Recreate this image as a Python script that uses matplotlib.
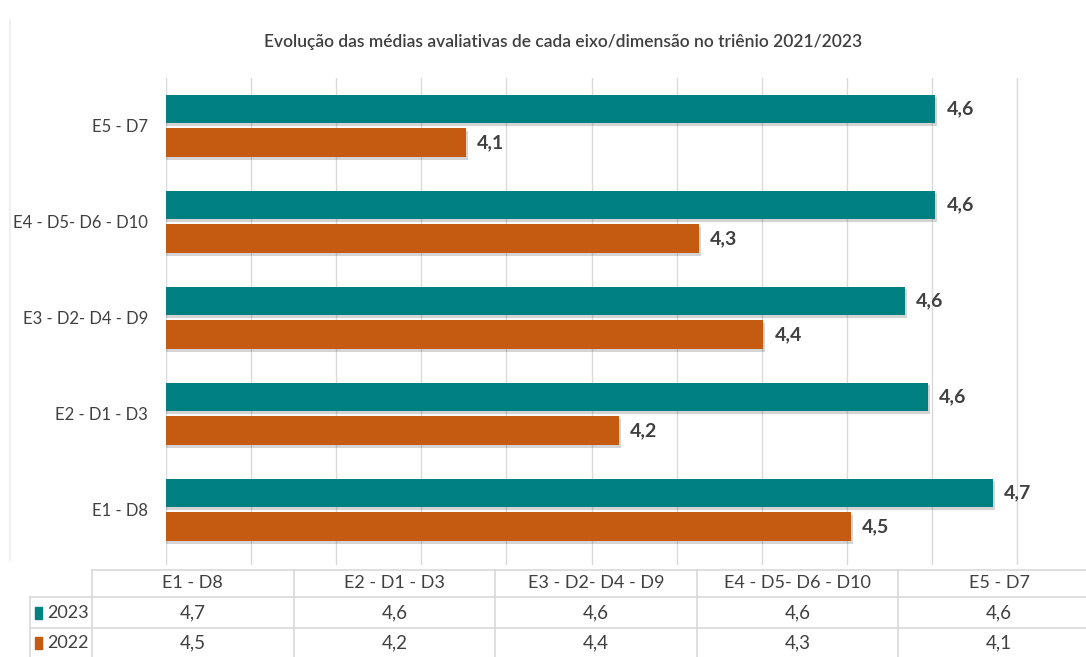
import numpy as np
import matplotlib
matplotlib.use('Agg')
import matplotlib.pyplot as plt
import matplotlib.patheffects as pe
from matplotlib.patches import Rectangle
from matplotlib.lines import Line2D

plt.rcParams['font.family'] = ['Lato', 'DejaVu Sans']

# data (bottom to top as drawn)
categories = ['E1 - D8', 'E2 - D1 - D3', 'E3 - D2- D4 - D9', 'E4 - D5- D6 - D10', 'E5 - D7']
values_2023 = [4.672, 4.595, 4.568, 4.604, 4.604]
values_2022 = [4.505, 4.232, 4.402, 4.326, 4.052]
series_names = ['2023', '2022']

teal = '#008080'
orange = '#C55A11'
text_col = '#404040'
grid_col = '#D9D9D9'

W, H = 1086, 657
fig = plt.figure(figsize=(W / 100, H / 100), dpi=100)

def fx(px):
    return px / W

def fy(py):
    return 1 - py / H

# axes placement in pixels
ax_left, ax_right, ax_top, ax_bot = 166, 1086, 78, 565
ax = fig.add_axes([fx(ax_left), fy(ax_bot), fx(ax_right - ax_left), (ax_bot - ax_top) / H])

y = np.arange(len(categories))
bh = 0.30
shadow = [pe.SimplePatchShadow(offset=(1.5, -2), alpha=0.25, shadow_rgbFace='#555555'), pe.Normal()]
b23 = ax.barh(y + 0.177, values_2023, height=bh, color=teal, zorder=3)
b22 = ax.barh(y - 0.172, values_2022, height=bh, color=orange, zorder=3)
for b in list(b23) + list(b22):
    b.set_path_effects(shadow)

x0 = 3.7
ax.set_xlim(x0, x0 + (ax_right - ax_left) / 851.0)
ax.set_ylim(-0.573, 4.5)
ax.set_xticks(np.arange(3.7, 4.71, 0.1))
ax.xaxis.grid(True, color=grid_col, linewidth=1)
ax.set_axisbelow(True)
ax.tick_params(axis='x', length=0, labelbottom=False)
ax.tick_params(axis='y', length=0, pad=13, labelsize=12, labelcolor=text_col)
ax.set_yticks(y)
ax.set_yticklabels(categories)
for s in ax.spines.values():
    s.set_visible(False)
ax.axvline(x0, color=grid_col, linewidth=1.2)

# data labels
for bars, vals in ((b23, values_2023), (b22, values_2022)):
    for b, v in zip(bars, vals):
        ax.annotate(f'{v:.1f}'.replace('.', ','), (v, b.get_y() + b.get_height() / 2),
                    xytext=(8, 0), textcoords='offset points', va='center', ha='left',
                    fontsize=14, fontweight='bold', color=text_col)

fig.text(fx(563), fy(42), 'Evolução das médias avaliativas de cada eixo/dimensão no triênio 2021/2023',
         ha='center', va='center', fontsize=12.5, color=text_col, fontweight='semibold')

# data table under the chart
col_edges = [92 + i * 201.6 for i in range(6)]

def hline(py, x1, x2, c=grid_col):
    fig.add_artist(Line2D([fx(x1), fx(x2)], [fy(py), fy(py)], color=c, lw=1.2))

def vline(px, y1, y2, c=grid_col):
    fig.add_artist(Line2D([fx(px), fx(px)], [fy(y1), fy(y2)], color=c, lw=1.2))

hline(570, 92, 1090)
hline(597, 30, 1090)
hline(628, 30, 1090)
vline(30, 597, 660)
for c in col_edges[:5]:
    vline(c, 570, 660)

# tabled values in category order (left to right = E1..E5)
for i, cat in enumerate(categories):
    cx = (col_edges[i] + col_edges[i + 1]) / 2
    fig.text(fx(cx), fy(583.5), cat, ha='center', va='center', fontsize=13, color=text_col)
    fig.text(fx(cx), fy(612.5), f'{values_2023[i]:.1f}'.replace('.', ','),
             ha='center', va='center', fontsize=13.5, color=text_col)
    fig.text(fx(cx), fy(643), f'{values_2022[i]:.1f}'.replace('.', ','),
             ha='center', va='center', fontsize=13.5, color=text_col)

for name, col, ry in ((series_names[0], teal, 612.5), (series_names[1], orange, 643)):
    fig.add_artist(Rectangle((fx(35), fy(ry + 6)), fx(7), 12 / H, color=col))
    fig.text(fx(47), fy(ry), name, ha='left', va='center', fontsize=13, color=text_col)

# faint outer chart border on left
vline(10, 20, 560, c='#EEEEEE')

fig.savefig('out.png', dpi=100)
